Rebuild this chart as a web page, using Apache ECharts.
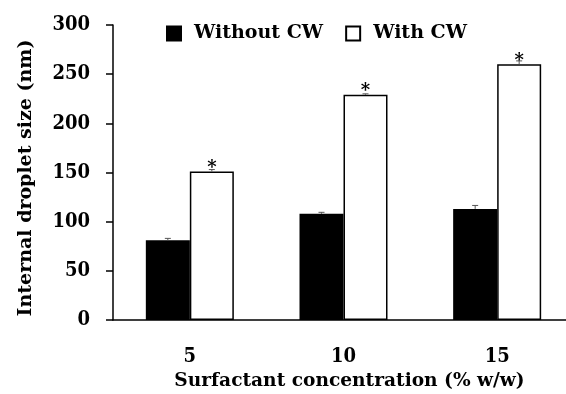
<!DOCTYPE html>
<html>
<head>
<meta charset="utf-8">
<script src="https://cdn.jsdelivr.net/npm/echarts@6/dist/echarts.min.js"></script>
<style>
  html, body { margin: 0; padding: 0; background: #fff; }
  #chart { width: 566px; height: 394px; }
</style>
</head>
<body>
<div id="chart"></div>
<script>
// data
var categories = ['5', '10', '15'];
var withoutCW = [81, 108, 113];
var withCW = [151, 229, 260];
var withoutErr = [2, 1.5, 3.5];
var withErr = [2, 1, 3.5];
var yTicks = [0, 50, 100, 150, 200, 250, 300];

var FONT = 'DejaVu Serif';
var NUM_FONT = '"DejaVu Serif Condensed", "DejaVu Serif"';
var BAR_W = 44;

var chart = echarts.init(document.getElementById('chart'));

// error bars drawn as a custom series, shifted half a bar left/right of the category centre
function errorSeries(values, errs, side) {
    var data = values.map(function (v, i) { return [i, v, errs[i]]; });
    return {
        type: 'custom',
        silent: true,
        z: 5,
        data: data,
        renderItem: function (params, api) {
            var idx = api.value(0);
            var top = api.coord([idx, api.value(1) + api.value(2)]);
            var base = api.coord([idx, api.value(1)]);
            var x = top[0] + side * BAR_W / 2;
            var style = { stroke: '#555', lineWidth: 1 };
            return {
                type: 'group',
                children: [
                    { type: 'line', shape: { x1: x, y1: base[1], x2: x, y2: top[1] }, style: style },
                    { type: 'line', shape: { x1: x - 3, y1: top[1], x2: x + 3, y2: top[1] }, style: style }
                ]
            };
        }
    };
}

chart.setOption({
    backgroundColor: '#fff',
    animation: false,
    textStyle: { fontFamily: FONT },
    legend: {
        left: 161,
        top: 19,
        icon: 'rect',
        itemWidth: 14,
        itemHeight: 14,
        itemGap: 22,
        textStyle: { fontFamily: FONT, fontWeight: 'bold', fontSize: 19, color: '#000', padding: [0, 0, 0, 8] },
        data: ['Without CW', 'With CW']
    },
    grid: { left: 113, width: 461, top: 25, height: 295, outerBoundsMode: 'none' },
    xAxis: {
        type: 'category',
        data: categories,
        axisLine: { lineStyle: { color: '#000', width: 1.5 } },
        axisTick: { length: 7, lineStyle: { color: '#000', width: 1.5 } },
        axisLabel: { color: '#000', fontFamily: NUM_FONT, fontWeight: 'bold', fontSize: 20, margin: 27 },
        name: 'Surfactant concentration (% w/w)',
        nameLocation: 'middle',
        nameGap: 52,
        nameTextStyle: { color: '#000', fontFamily: FONT, fontWeight: 'bold', fontSize: 18.6, padding: [0, 0, 0, 12] }
    },
    yAxis: {
        type: 'value',
        min: yTicks[0],
        max: yTicks[yTicks.length - 1],
        interval: yTicks[1] - yTicks[0],
        splitLine: { show: false },
        axisLine: { show: true, lineStyle: { color: '#000', width: 1.5 } },
        axisTick: { show: true, length: 7, lineStyle: { color: '#000', width: 1.5 } },
        axisLabel: { color: '#000', fontFamily: NUM_FONT, fontWeight: 'bold', fontSize: 20, margin: 23 },
        name: 'Internal droplet size (nm)',
        nameLocation: 'middle',
        nameGap: 77,
        nameTextStyle: { color: '#000', fontFamily: FONT, fontWeight: 'bold', fontSize: 19, padding: [0, 11, 0, 0] }
    },
    series: [
        {
            name: 'Without CW',
            type: 'bar',
            data: withoutCW,
            barWidth: BAR_W,
            barGap: '0%',
            itemStyle: { color: '#000', borderColor: '#000', borderWidth: 1.5 }
        },
        {
            name: 'With CW',
            type: 'bar',
            data: withCW,
            barWidth: BAR_W,
            barGap: '0%',
            itemStyle: { color: '#fff', borderColor: '#000', borderWidth: 1.5 },
            label: {
                show: true,
                position: 'top',
                distance: 0,
                offset: [0, 6],
                formatter: '*',
                color: '#000',
                fontFamily: FONT,
                fontWeight: 'bold',
                fontSize: 18
            }
        },
        errorSeries(withoutCW, withoutErr, -1),
        errorSeries(withCW, withErr, 1)
    ]
});
</script>
</body>
</html>
